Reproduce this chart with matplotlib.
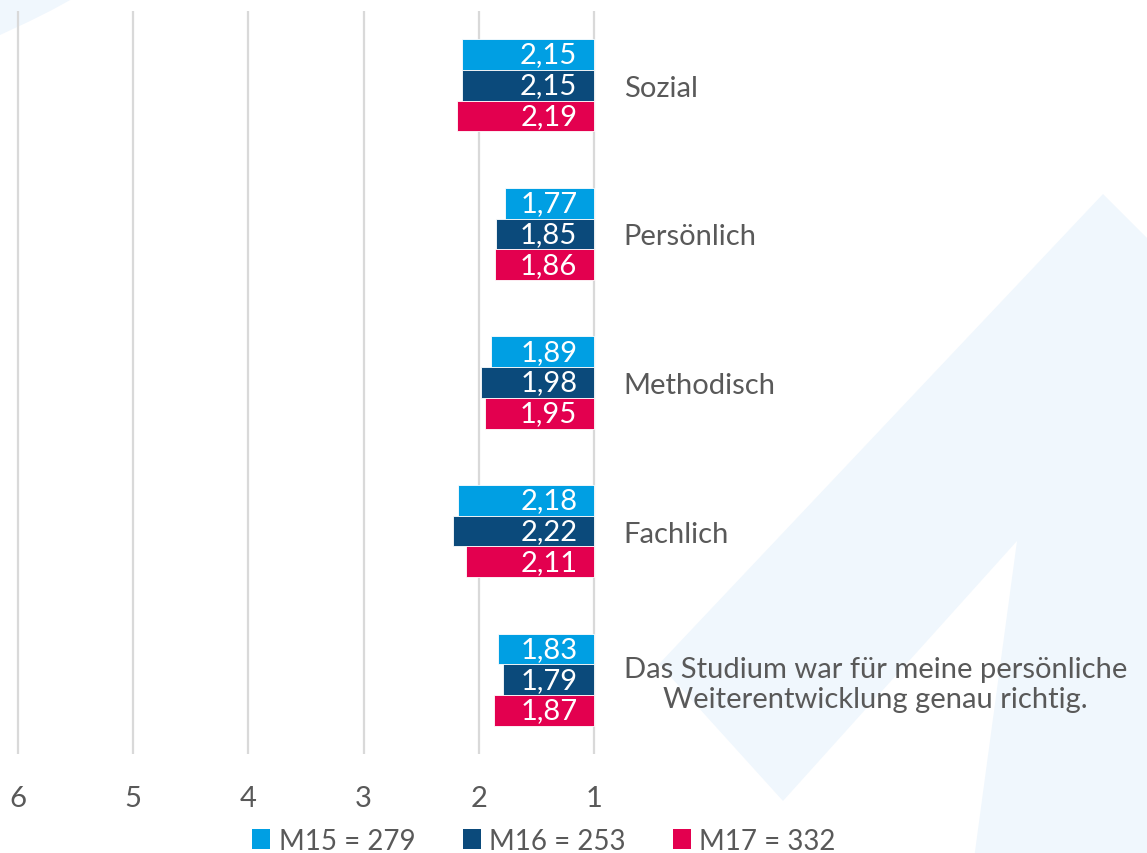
import matplotlib
matplotlib.use("Agg")
import matplotlib.pyplot as plt
from matplotlib.patches import Polygon, Patch
import numpy as np

plt.rcParams['font.family'] = ['Lato', 'DejaVu Sans']

categories = ["Sozial", "Persönlich", "Methodisch", "Fachlich",
              "Das Studium war für meine persönliche\nWeiterentwicklung genau richtig."]
series_names = ["M15 = 279", "M16 = 253", "M17 = 332"]
m15 = [2.15, 1.77, 1.89, 2.18, 1.83]
m16 = [2.15, 1.85, 1.98, 2.22, 1.79]
m17 = [2.19, 1.86, 1.95, 2.11, 1.87]
x_ticks = [6, 5, 4, 3, 2, 1]

colors = ["#009FE3", "#0B4A7B", "#E3004F"]
series = [m15, m16, m17]

W, H = 1147, 854
fig = plt.figure(figsize=(W / 100, H / 100), dpi=100)
fig.patch.set_facecolor("white")

def fp(pts):
    return [(x / W, 1 - y / H) for x, y in pts]

bg = "#F0F7FD"
chev = [(1103, 195), (1160, 252), (1160, 860), (974, 860), (1017, 542),
        (783, 802), (659, 665)]
fig.patches.append(Polygon(fp(chev), closed=True, transform=fig.transFigure,
                           facecolor=bg, edgecolor="none", zorder=-5))
arc = [(0, 0), (72, 0), (52, 11), (28, 23), (0, 36)]
fig.patches.append(Polygon(fp(arc), closed=True, transform=fig.transFigure,
                           facecolor=bg, edgecolor="none", zorder=-5))

ax_l, ax_r, ax_t, ax_b = 16, 596, 12, 755
ax = fig.add_axes([ax_l / W, 1 - ax_b / H, (ax_r - ax_l) / W, (ax_b - ax_t) / H])
ax.patch.set_alpha(0)

px_per_unit = (594 - 18) / 5.0
xl = 6 + (18 - ax_l) / px_per_unit
xr = 1 - (ax_r - 594) / px_per_unit
ax.set_xlim(xl, xr)
ax.set_ylim(4.5, -0.5)

n = len(categories)
y = np.arange(n)
h = 0.207
offsets = [-h, 0, h]
for s, vals, col, off in zip(series_names, series, colors, offsets):
    vals = np.array(vals)
    ax.barh(y + off, vals - 1, left=1, height=h, color=col,
            edgecolor="white", linewidth=0.6, zorder=3, label=s)
    for yi, v in zip(y + off, vals):
        ax.text(1.145, yi, f"{v:.2f}".replace(".", ","), ha="right", va="center",
                color="white", fontsize=21, zorder=4)

ax.set_xticks(x_ticks)
ax.set_xticklabels([str(t) for t in x_ticks])
ax.grid(axis="x", color="#D9D9D9", linewidth=1.6, zorder=1)
ax.set_axisbelow(True)
for sp in ax.spines.values():
    sp.set_visible(False)
ax.tick_params(axis="x", length=0, pad=22, labelsize=21, labelcolor="#595959")

ax.yaxis.tick_right()
ax.set_yticks(y)
ax.set_yticklabels(categories)
ax.tick_params(axis="y", length=0, pad=20, labelsize=21, labelcolor="#595959")
for lab in ax.get_yticklabels():
    lab.set_multialignment("center")

handles = [Patch(facecolor=c, edgecolor="none") for c in colors]
fig.legend(handles, series_names, loc="center", bbox_to_anchor=(544 / W, 1 - 842 / H),
           ncol=3, frameon=False, fontsize=20, labelcolor="#595959",
           handlelength=0.65, handleheight=0.72, handletextpad=0.3, columnspacing=1.7,
           borderpad=0.1)

fig.savefig("out.png", dpi=100, facecolor="white")
